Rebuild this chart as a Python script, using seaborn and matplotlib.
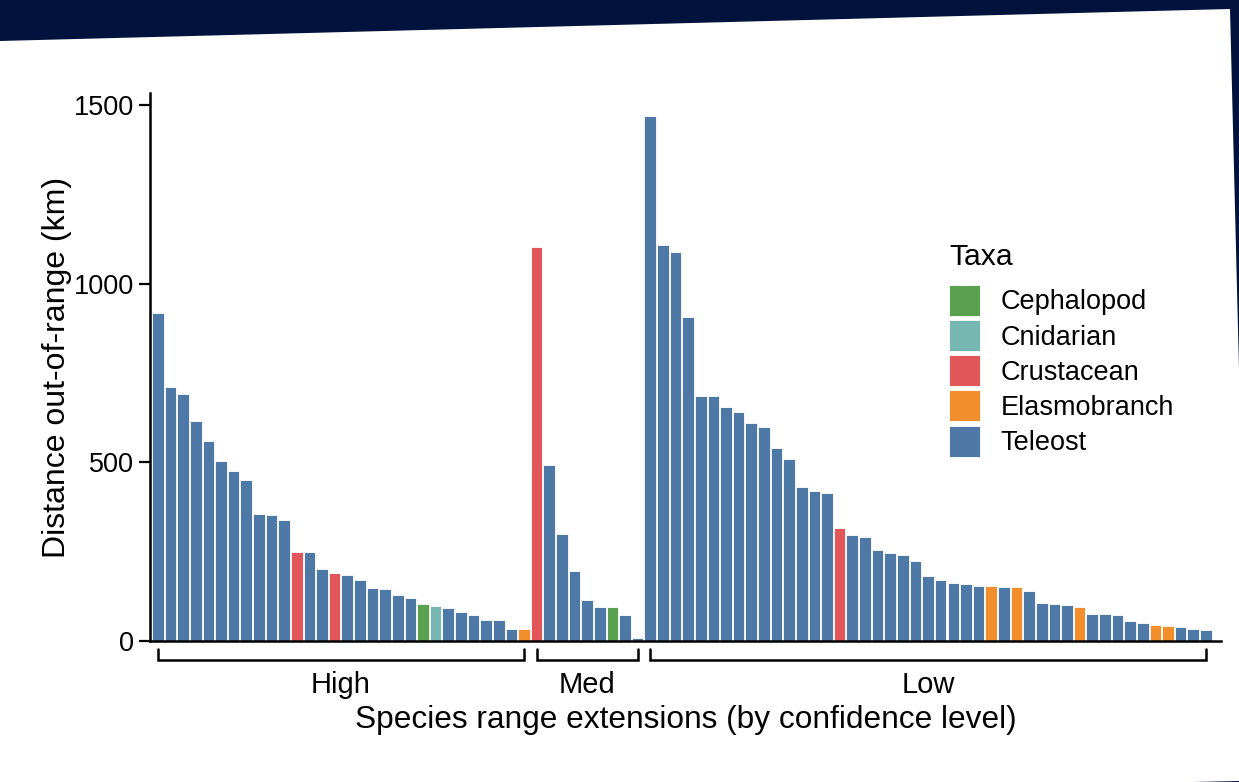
import numpy as np
import pandas as pd
import matplotlib
matplotlib.use("Agg")
import matplotlib.pyplot as plt
import seaborn as sns
from matplotlib.patches import Polygon
from matplotlib.transforms import blended_transform_factory

# ---------------- data ----------------
groups = ["High", "Med", "Low"]

high_km = [920, 712, 692, 616, 560, 505, 476, 452, 356, 352, 338, 250, 250, 203, 191,
           185, 170, 148, 147, 129, 120, 105, 97, 93, 80, 72, 59, 58, 34, 33]
high_taxa = (["Teleost"] * 11 + ["Crustacean"] + ["Teleost"] * 2 + ["Crustacean"]
             + ["Teleost"] * 6 + ["Cephalopod", "Cnidarian"] + ["Teleost"] * 6
             + ["Elasmobranch"])

med_km = [1105, 494, 301, 196, 115, 95, 95, 74, 8]
med_taxa = (["Crustacean"] + ["Teleost"] * 5 + ["Cephalopod"] + ["Teleost"] * 2)

low_km = [1470, 1110, 1090, 908, 687, 686, 655, 641, 611, 600, 542, 510, 430, 420, 415,
          316, 297, 292, 255, 247, 240, 223, 182, 172, 163, 160, 155, 155, 152, 152,
          141, 106, 103, 100, 94, 77, 75, 73, 55, 51, 46, 43, 38, 33, 32]
low_taxa = (["Teleost"] * 15 + ["Crustacean"] + ["Teleost"] * 11 + ["Elasmobranch"]
            + ["Teleost"] + ["Elasmobranch"] + ["Teleost"] * 4 + ["Elasmobranch"]
            + ["Teleost"] * 5 + ["Elasmobranch"] * 2 + ["Teleost"] * 3)

taxa_order = ["Cephalopod", "Cnidarian", "Crustacean", "Elasmobranch", "Teleost"]
taxa_colors = ["#59A14F", "#76B7B2", "#E15759", "#F28E2B", "#4E79A7"]

y_ticks = [0, 500, 1000, 1500]

# ---------------- table ----------------
group_vals = [high_km, med_km, low_km]
km = high_km + med_km + low_km
taxa = high_taxa + med_taxa + low_taxa
df = pd.DataFrame({
    "species": [f"s{i:02d}" for i in range(len(km))],
    "km": km,
    "Taxa": taxa,
})

# ---------------- style ----------------
sns.set_theme(style="white")
plt.rcParams["font.family"] = ["Liberation Sans", "DejaVu Sans"]
plt.rcParams["text.color"] = "black"

W, H = 1239, 782
fig = plt.figure(figsize=(W / 100, H / 100), dpi=100, facecolor="#01133c")

# white sheet on the dark background
paper = [(0, 41), (1230, 9), (1239, 369), (1239, 781), (1193, 782), (0, 782)]
fig.patches.append(Polygon([(x / W, 1 - y / H) for x, y in paper], closed=True,
                           transform=fig.transFigure, facecolor="white",
                           edgecolor="none", zorder=-5))

ax_h_px = 548
ax = fig.add_axes([150 / W, (H - 641) / H, (1221 - 150) / W, ax_h_px / H])
ax.set_facecolor("white")

sns.barplot(data=df, x="species", y="km", hue="Taxa", hue_order=taxa_order,
            palette=dict(zip(taxa_order, taxa_colors)), dodge=False, width=0.92,
            edgecolor="white", linewidth=0.6, saturation=1, ax=ax)

n = len(km)
ax.set_xlim(-0.62, n - 0.5 + 0.7)
ax.set_ylim(0, 1535)
ax.set_yticks(y_ticks)
ax.set_yticklabels([str(t) for t in y_ticks], fontsize=19.5, color="black")
ax.set_xticks([])
sns.despine(ax=ax)
for s in ["left", "bottom"]:
    ax.spines[s].set_linewidth(1.8)
    ax.spines[s].set_color("black")
ax.tick_params(axis="y", length=8, width=1.6, pad=3.5, color="black", left=True)

ax.set_ylabel("Distance out-of-range (km)", fontsize=23, color="black", labelpad=1)
ax.set_xlabel("Species range extensions (by confidence level)", fontsize=22.8,
              color="black", labelpad=46)

# group brackets
trans = blended_transform_factory(ax.transData, ax.transAxes)
px = 1 / ax_h_px
start = 0
for name, vals in zip(groups, group_vals):
    i0, i1 = start, start + len(vals) - 1
    ax.plot([i0, i0, i1, i1], [-8 * px, -19 * px, -19 * px, -8 * px], transform=trans,
            clip_on=False, color="black", lw=1.8, solid_joinstyle="miter")
    ax.text((i0 + i1) / 2, -44 * px, name, transform=trans, ha="center", va="center",
            fontsize=21, color="black")
    start += len(vals)

# legend
handles, labels = ax.get_legend_handles_labels()
if ax.get_legend() is not None:
    ax.get_legend().remove()
leg = ax.legend(handles, labels, title="Taxa", loc="upper left",
                bbox_to_anchor=(949 / W, 1 - 243 / H), bbox_transform=fig.transFigure,
                frameon=False, fontsize=19.5, title_fontsize=21.7, borderpad=0,
                borderaxespad=0, handlelength=1.15, handleheight=1.39,
                labelspacing=0.15, handletextpad=0.75, alignment="left",
                labelcolor="black")
leg.get_title().set_color("black")
leg._legend_box.sep = 10

fig.savefig("out.png", dpi=100, facecolor=fig.get_facecolor())
